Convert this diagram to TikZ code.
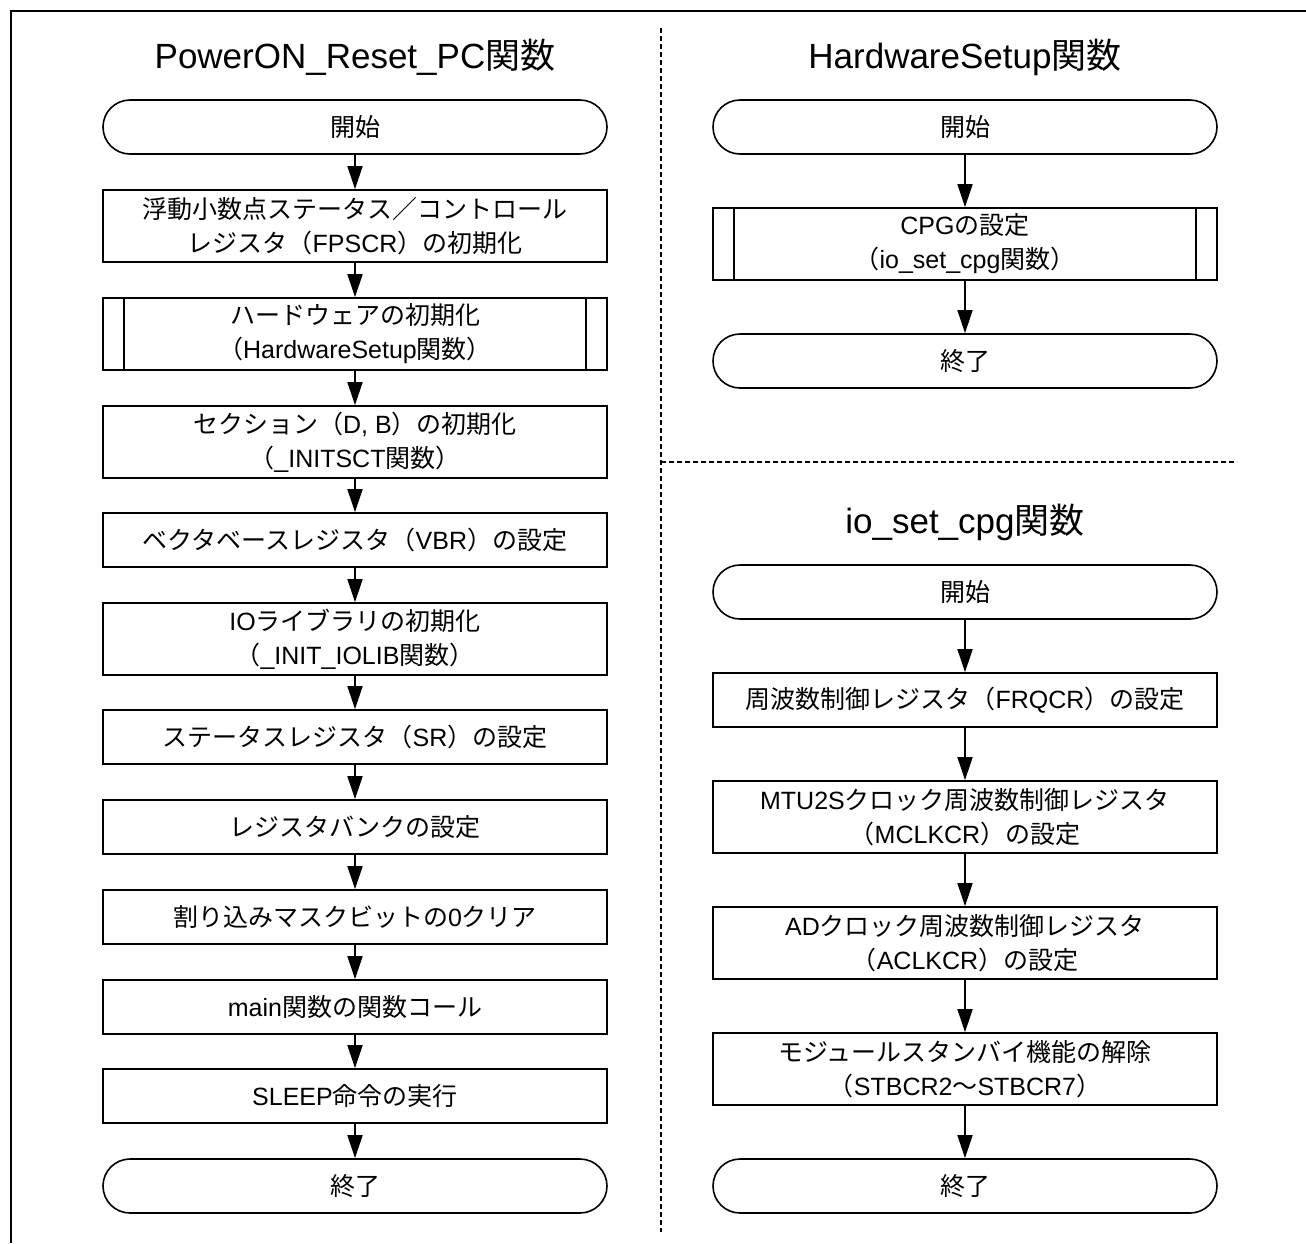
\documentclass[tikz,border=0pt]{standalone}
\usepackage{fontspec}
\setmainfont{Liberation Sans}
\newfontfamily\cjk{Noto Sans CJK JP}
\usetikzlibrary{arrows.meta}
\newcommand\J[1]{{\cjk #1}}
\begin{document}
\begin{tikzpicture}[x=1pt,y=-1pt,
  fbox/.style={draw, line width=1.6pt, minimum width=504pt, inner sep=0pt, align=center,
               font=\fontsize{25}{34}\selectfont},
  sbox/.style={fbox, minimum height=54pt},
  dbox/.style={fbox, minimum height=72pt},
  term/.style={fbox, minimum height=54pt, rounded corners=27pt},
  subbox/.style={dbox, path picture={
     \draw[line width=1.6pt] ([xshift=21pt]path picture bounding box.north west) -- ([xshift=21pt]path picture bounding box.south west);
     \draw[line width=1.6pt] ([xshift=-21pt]path picture bounding box.north east) -- ([xshift=-21pt]path picture bounding box.south east);}},
  ttl/.style={anchor=base, inner sep=0pt, font=\fontsize{35}{40}\selectfont},
  arr/.style={line width=1.5pt, -{Triangle[length=23pt,width=15pt]}},
  sep/.style={line width=2pt, dash pattern=on 5pt off 3pt}
]
\useasboundingbox (0,0) rectangle (1306,1243);
\draw[line width=2.5pt] (1306,11) -- (11,11) -- (11,1243);
\draw[sep] (661,28) -- (661,1232);
\draw[sep] (661,462) -- (1237,462);

% titles
\node[ttl] (t1) at (355,68) {PowerON\_Reset\_PC\J{関数}};
\node[ttl] (t2) at (965,68) {HardwareSetup\J{関数}};
\node[ttl] (t3) at (965,533) {io\_set\_cpg\J{関数}};

% left column
\node[term] (L0) at (355,127) {\J{開始}};
\node[dbox] (L1) at (355,226) {\J{浮動小数点ステータス／コントロール}\\\J{レジスタ（}FPSCR\J{）の初期化}};
\node[subbox] (L2) at (355,334) {\J{ハードウェアの初期化}\\\J{（}HardwareSetup\J{関数）}};
\node[dbox] (L3) at (355,442) {\J{セクション（}D, B\J{）の初期化}\\\J{（}\_INITSCT\J{関数）}};
\node[sbox] (L4) at (355,540) {\J{ベクタベースレジスタ（}VBR\J{）の設定}};
\node[dbox] (L5) at (355,639) {IO\J{ライブラリの初期化}\\\J{（}\_INIT\_IOLIB\J{関数）}};
\node[sbox] (L6) at (355,737) {\J{ステータスレジスタ（}SR\J{）の設定}};
\node[sbox] (L7) at (355,827) {\J{レジスタバンクの設定}};
\node[sbox] (L8) at (355,917) {\J{割り込みマスクビットの}0\J{クリア}};
\node[sbox] (L9) at (355,1007) {main\J{関数の関数コール}};
\node[sbox] (L10) at (355,1096) {SLEEP\J{命令の実行}};
\node[term] (L11) at (355,1186) {\J{終了}};
\foreach \a/\b in {L0/L1,L1/L2,L2/L3,L3/L4,L4/L5,L5/L6,L6/L7,L7/L8,L8/L9,L9/L10,L10/L11}
  \draw[arr] (\a.south) -- (\b.north);

% right top
\node[term] (R0) at (965,127) {\J{開始}};
\node[subbox] (R1) at (965,244) {CPG\J{の設定}\\\J{（}io\_set\_cpg\J{関数）}};
\node[term] (R2) at (965,361) {\J{終了}};
\draw[arr] (R0.south) -- (R1.north);
\draw[arr] (R1.south) -- (R2.north);

% right bottom
\node[term] (S0) at (965,592) {\J{開始}};
\node[sbox] (S1) at (965,700) {\J{周波数制御レジスタ（}FRQCR\J{）の設定}};
\node[dbox] (S2) at (965,817) {MTU2S\J{クロック周波数制御レジスタ}\\\J{（}MCLKCR\J{）の設定}};
\node[dbox] (S3) at (965,943) {AD\J{クロック周波数制御レジスタ}\\\J{（}ACLKCR\J{）の設定}};
\node[dbox] (S4) at (965,1069) {\J{モジュールスタンバイ機能の解除}\\\J{（}STBCR2\J{～}STBCR7\J{）}};
\node[term] (S5) at (965,1186) {\J{終了}};
\foreach \a/\b in {S0/S1,S1/S2,S2/S3,S3/S4,S4/S5}
  \draw[arr] (\a.south) -- (\b.north);
\end{tikzpicture}
\end{document}
